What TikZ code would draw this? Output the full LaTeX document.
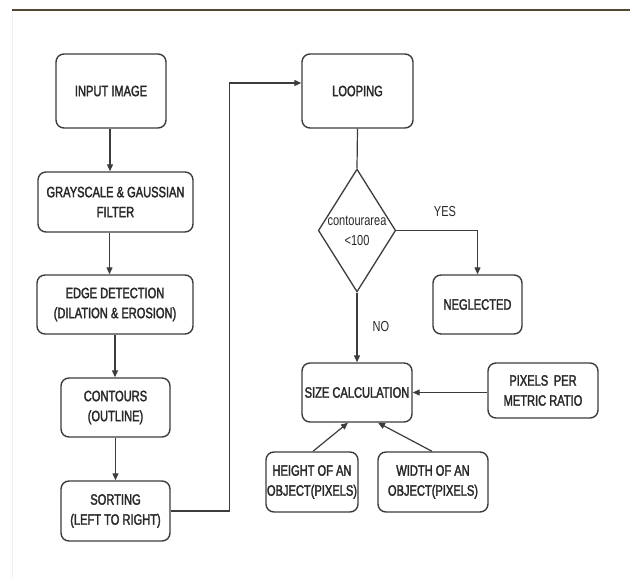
\documentclass[tikz,border=0pt]{standalone}
\usepackage{fontspec}
\setmainfont{Liberation Sans}
\newfontfamily\narrowfont[FakeStretch=0.76]{Liberation Sans}
\newfontfamily\boxfont[FakeStretch=0.74,FakeBold=2]{Liberation Sans}
\usetikzlibrary{arrows.meta,shapes.geometric}
\definecolor{lin}{RGB}{60,60,60}
\definecolor{txt}{RGB}{40,40,40}
\definecolor{topline}{RGB}{85,72,50}
\begin{document}
\begin{tikzpicture}[x=1pt,y=-1pt,
  box/.style={draw=lin, line width=1.4pt, rounded corners=8pt, align=center,
    font=\boxfont\fontsize{15}{20}\selectfont, text=txt, inner sep=1pt},
  dec/.style={draw=lin, line width=1.3pt, diamond, aspect=0.63, align=center,
    font=\narrowfont\fontsize{14.5}{20}\selectfont, text=txt, inner sep=0pt,
    minimum width=72pt, minimum height=115pt},
  lbl/.style={font=\narrowfont\fontsize{14.5}{20}\selectfont, text=txt},
  conn/.style={draw=lin, line width=1.2pt},
  arr/.style={conn, -{Triangle[length=7pt,width=6pt]}}]
\useasboundingbox (0,0) rectangle (630,578);
\fill[white] (0,0) rectangle (630,578);
\draw[gray!12, line width=0.8pt] (12,11) -- (12,578);
\draw[topline, line width=2.5pt] (12,10) -- (630,10);

\node[box, minimum width=110pt, minimum height=74pt] (input) at (111,91) {INPUT IMAGE};
\node[box, minimum width=155pt, minimum height=60pt] (gray) at (115.5,202) {GRAYSCALE \& GAUSSIAN\\FILTER};
\node[box, minimum width=156pt, minimum height=59pt] (edge) at (115,304.5) {EDGE DETECTION\\(DILATION \& EROSION)};
\node[box, minimum width=109pt, minimum height=59pt] (cont) at (115.5,407.5) {CONTOURS\\(OUTLINE)};
\node[box, minimum width=109pt, minimum height=60pt] (sort) at (115.5,511) {SORTING\\(LEFT TO RIGHT)};
\node[box, minimum width=111pt, minimum height=74pt] (loop) at (357.5,91) {LOOPING};
\node[dec] (cond) at (357,230.5) {contourarea\\<100};
\node[box, minimum width=89pt, minimum height=59pt] (negl) at (477.5,304.5) {NEGLECTED};
\node[box, minimum width=110pt, minimum height=59pt] (size) at (357,392.5) {SIZE CALCULATION};
\node[box, minimum width=110pt, minimum height=55pt] (ppm) at (543,390.5) {PIXELS\, PER\\METRIC RATIO};
\node[box, minimum width=90pt, minimum height=60pt] (hgt) at (312,482) {HEIGHT OF AN\\OBJECT(PIXELS)};
\node[box, minimum width=110pt, minimum height=60pt] (wid) at (433,482) {WIDTH OF AN\\OBJECT(PIXELS)};

\draw[arr] ([xshift=-1pt]input.south) -- ([xshift=-1pt]input.south |- gray.north);
\draw[arr] ([xshift=-6pt]gray.south) -- ([xshift=-6pt]gray.south |- edge.north);
\draw[arr] (edge.south) -- (edge.south |- cont.north);
\draw[arr] (cont.south) -- (sort.north);
\draw[arr] (sort.east) -- ++(59,0) |- ([yshift=8pt]loop.west);
\draw[conn] (loop.south) -- (cond.north);
\draw[arr] (cond.south) -- (size.north);
\node[lbl] (no) at (381,327) {NO};
\draw[arr] (cond.east) -| (negl.north);
\node[lbl] (yes) at (445,212) {YES};
\draw[arr] (ppm.west |- size.east) -- (size.east);
\draw[arr] ([xshift=1pt]hgt.north) -- ([xshift=-9pt]size.south);
\draw[arr] ([xshift=-1pt]wid.north) -- ([xshift=21pt]size.south);
\end{tikzpicture}
\end{document}
